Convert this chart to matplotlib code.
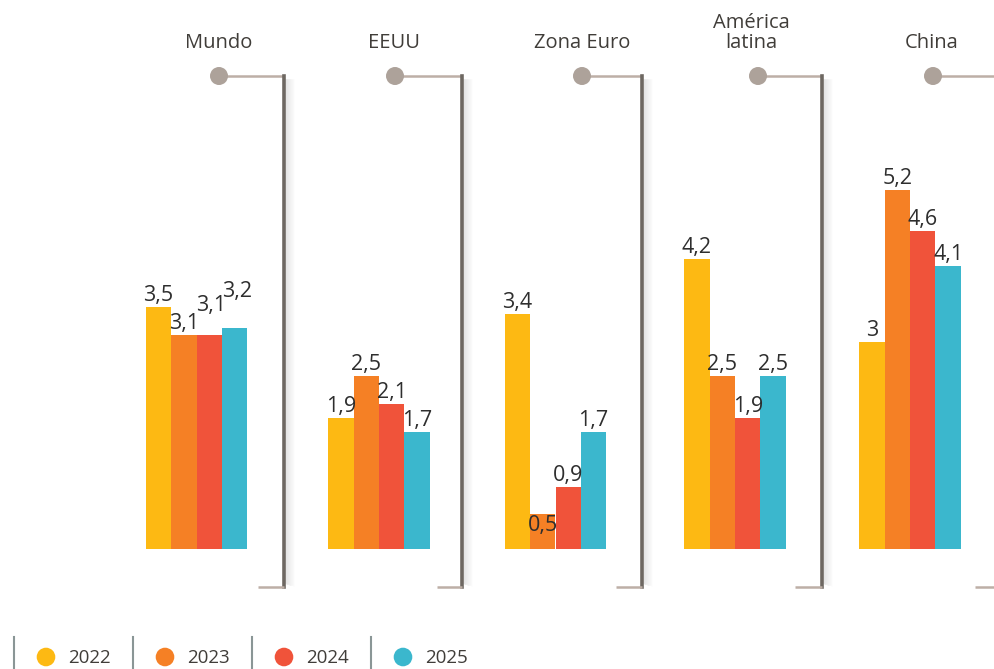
import matplotlib
matplotlib.use("Agg")
import matplotlib.pyplot as plt
from matplotlib.patches import Circle
import numpy as np

# ---- data ----
groups = ["Mundo", "EEUU", "Zona Euro", "América\nlatina", "China"]
years = ["2022", "2023", "2024", "2025"]
v2022 = [3.5, 1.9, 3.4, 4.2, 3.0]
v2023 = [3.1, 2.5, 0.5, 2.5, 5.2]
v2024 = [3.1, 2.1, 0.9, 1.9, 4.6]
v2025 = [3.2, 1.7, 1.7, 2.5, 4.1]
series = [v2022, v2023, v2024, v2025]
colors = ["#FDB913", "#F58025", "#F0533A", "#3BB7CD"]

# ---- layout (pixels) ----
W, H = 995, 669
px_per_unit = 69.1
base_px = 549           # baseline from top
group_centers = [196.5, 379, 555.5, 735, 910]
bar_px = 25.4

circle_x = [219, 395, 582, 758, 933]
vert_x = [284, 462, 642, 822, None]
bottom_start = [258, 437, 616, 795, 975]
label_x = [219, 394, 582, 751, 932]
line_y = 76
bottom_y = 587
# label nudges (pixels, up positive) for crowded labels: (group, series) -> (dx, dy)
nudges = {(0, 2): (2, 18), (0, 3): (2, 25), (2, 1): (0, -23)}

fig = plt.figure(figsize=(W / 100, H / 100), dpi=100)
ax = fig.add_axes([0, 0, 1, 1])
ax.set_xlim(0, W)
ax.set_ylim(-(H - base_px) / px_per_unit, base_px / px_per_unit)
ax.axis("off")

font = ["Open Sans", "DejaVu Sans"]
gc = np.array(group_centers)
for j, (vals, c) in enumerate(zip(series, colors)):
    xs = gc + (j - 1.5) * bar_px
    ax.bar(xs, vals, width=bar_px, color=c, linewidth=0, zorder=2)
    for i, (xx, v) in enumerate(zip(xs, vals)):
        dx, dy = nudges.get((i, j), (0, 0))
        txt = ("%g" % v).replace(".", ",")
        ax.annotate(txt, (xx, v), xytext=(dx * 0.72, (dy + 1) * 0.72),
                    textcoords="offset points", ha="center", va="bottom",
                    fontsize=15.5, color="#2E2E2E", family=font, zorder=3)

# decoration overlay in pixel coords
ov = fig.add_axes([0, 0, 1, 1], facecolor="none")
ov.set_xlim(0, W)
ov.set_ylim(H, 0)
ov.axis("off")

line_c = "#BDAFA6"
for i in range(len(groups)):
    cx = circle_x[i]
    vx = vert_x[i] if vert_x[i] is not None else W
    ov.plot([cx, vx], [line_y, line_y], color=line_c, lw=1.8, solid_capstyle="butt", zorder=1)
    ov.add_patch(Circle((cx, line_y), 9, color="#ADA29A", zorder=2, lw=0))
    if vert_x[i] is not None:
        for k in range(1, 10):
            a = 0.13 * (1 - k / 10)
            ov.plot([vx + 1 + k, vx + 1 + k], [line_y + 4, bottom_y - 4 + k * 0.3],
                    color="#777777", alpha=a, lw=1.2, zorder=1)
        ov.plot([vx, vx], [line_y, bottom_y], color="#6E6862", lw=2.6, zorder=2)
        ov.plot([bottom_start[i], vx], [bottom_y, bottom_y], color=line_c, lw=1.8,
                solid_capstyle="butt", zorder=2)
    else:
        ov.plot([bottom_start[i], W], [bottom_y, bottom_y], color=line_c, lw=1.8,
                solid_capstyle="butt", zorder=2)
    ov.text(label_x[i], 53, groups[i], ha="center", va="bottom", fontsize=14.5,
            color="#403D39", family=font, linespacing=1.0)

# legend
sep_x = [14, 133, 252, 371]
for k, (yr, c) in enumerate(zip(years, colors)):
    sx = sep_x[k]
    ov.plot([sx, sx], [637, 669], color="#8A9696", lw=1.5)
    ov.add_patch(Circle((sx + 32, 657), 9.3, color=c, lw=0))
    ov.text(sx + 54, 658, yr, ha="left", va="center", fontsize=13.5,
            color="#403D39", family=font)

fig.savefig("out.png", dpi=100)
